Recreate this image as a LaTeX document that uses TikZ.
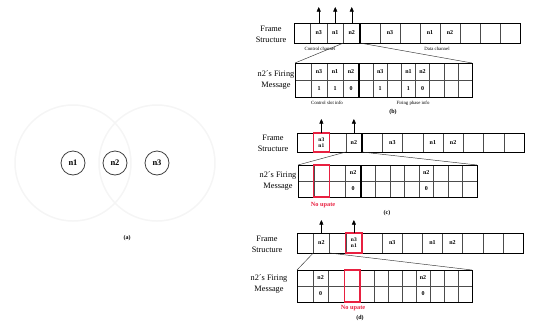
\documentclass[tikz,border=0pt]{standalone}
\usepackage{fontspec}
\setmainfont{Liberation Serif}
\usetikzlibrary{arrows.meta}
\definecolor{upred}{RGB}{232,32,64}
\newcommand\mkcells[6]{%
  \foreach \i in {1,...,12}{%
    \ifnum\i<5
      \pgfmathsetmacro\xx{#2+(\i-1)*#4}\def\ww{#4}%
    \else
      \pgfmathsetmacro\xx{#2+4*#4+(\i-5)*#5}\def\ww{#5}%
    \fi
    \node[cellbox, minimum width=\ww pt, minimum height=#6pt] (#1\i) at (\xx,#3) {};
  }%
}
\begin{document}
\begin{tikzpicture}[x=1pt,y=-1pt,
  cellbox/.style={draw=black!70, line width=0.4pt, inner sep=0pt, outer sep=0pt, anchor=north west},
  outerbox/.style={draw=black, line width=0.9pt},
  divider/.style={draw=black, line width=1.5pt},
  ctext/.style={font=\fontsize{6}{6.5}\selectfont\bfseries, inner sep=0pt},
  stacktext/.style={font=\fontsize{5.5}{5.8}\selectfont\bfseries, inner sep=0pt, align=center},
  sidelabel/.style={font=\fontsize{8.3}{11}\selectfont, align=center, inner sep=0pt},
  smallnote/.style={font=\fontsize{4.8}{5}\selectfont, inner sep=0pt},
  figcap/.style={font=\fontsize{6}{6.5}\selectfont\bfseries, inner sep=0pt},
  noup/.style={font=\fontsize{6.3}{7}\selectfont\bfseries, text=upred, inner sep=0pt},
  redbox/.style={draw=upred, line width=1.2pt},
  arr/.style={-{Triangle[length=4.5pt,width=4pt]}, line width=0.5pt},
  zoomline/.style={line width=0.45pt, draw=black!80},
  nodec/.style={circle, draw=black!75, line width=0.8pt, minimum size=24pt, inner sep=0pt, font=\fontsize{8.5}{9}\selectfont\bfseries},
  rangecirc/.style={draw=black!4, line width=1.5pt}
]
\useasboundingbox (0,0) rectangle (534,327);
% ---------- (a) ----------
\draw[rangecirc] (73,163) circle[radius=58];
\draw[rangecirc] (157,163) circle[radius=58];
\node[nodec] (n1) at (73,163) {n1};
\node[nodec] (n2) at (115,163) {n2};
\node[nodec] (n3) at (157,163) {n3};
\node[figcap] (capa) at (127,238) {(a)};
% ---------- (b) ----------
\mkcells{bf}{294}{23}{16.5}{20}{20}
\draw[outerbox] (bf1.north west) rectangle (bf12.south east);
\draw[divider] (bf4.north east) -- (bf4.south east);
\node[ctext] (tbf2) at (bf2) {n3};
\node[ctext] (tbf3) at (bf3) {n1};
\node[ctext] (tbf4) at (bf4) {n2};
\node[ctext] (tbf6) at (bf6) {n3};
\node[ctext] (tbf8) at (bf8) {n1};
\node[ctext] (tbf9) at (bf9) {n2};
\coordinate (ba2) at ([yshift=16pt]bf2.north);
\coordinate (ba3) at ([yshift=16pt]bf3.north);
\coordinate (ba4) at ([yshift=16pt]bf4.north);
\draw[arr] (bf2.north) -- (ba2);
\draw[arr] (bf3.north) -- (ba3);
\draw[arr] (bf4.north) -- (ba4);
\node[sidelabel] (bfs) at (271,34) {Frame\\Structure};
\node[smallnote] (bcc) at (320,48.5) {Control channel};
\node[smallnote] (bdc) at (437,48.5) {Data channel};
\mkcells{bm}{295}{63}{16}{14.125}{17}
\mkcells{bv}{295}{80}{16}{14.125}{17}
\draw[outerbox] (bm1.north west) rectangle (bv12.south east);
\draw[divider] (bm4.north east) -- (bv4.south east);
\node[ctext] (tbm2) at (bm2) {n3};
\node[ctext] (tbm3) at (bm3) {n1};
\node[ctext] (tbm4) at (bm4) {n2};
\node[ctext] (tbm6) at (bm6) {n3};
\node[ctext] (tbm8) at (bm8) {n1};
\node[ctext] (tbm9) at (bm9) {n2};
\node[ctext] (tbv2) at (bv2) {1};
\node[ctext] (tbv3) at (bv3) {1};
\node[ctext] (tbv4) at (bv4) {0};
\node[ctext] (tbv6) at (bv6) {1};
\node[ctext] (tbv8) at (bv8) {1};
\node[ctext] (tbv9) at (bv9) {0};
\draw[zoomline] (bf4.south west) -- (bm1.north west);
\draw[zoomline] (bf4.south east) -- (bm12.north east);
\node[sidelabel] (bfm) at (276,80) {n2´s Firing\\Message};
\node[smallnote] (bcs) at (327,103) {Control slot info};
\node[smallnote] (bfp) at (413,103) {Firing phase info};
\node[figcap] (capb) at (393,112) {(b)};
% ---------- (c) ----------
\mkcells{cf}{297}{133}{16.25}{20.25}{19}
\draw[outerbox] (cf1.north west) rectangle (cf12.south east);
\draw[divider] (cf4.north east) -- (cf4.south east);
\node[stacktext] (tcf2) at (cf2) {n3\\n1};
\node[ctext] (tcf4) at (cf4) {n2};
\node[ctext] (tcf6) at (cf6) {n3};
\node[ctext] (tcf8) at (cf8) {n1};
\node[ctext] (tcf9) at (cf9) {n2};
\draw[redbox] (cf2.north west) rectangle (cf2.south east);
\coordinate (ca2) at ([yshift=14pt]cf2.north);
\coordinate (ca4) at ([yshift=14pt]cf4.north);
\draw[arr] (cf2.north) -- (ca2);
\draw[arr] (cf4.north) -- (ca4);
\node[sidelabel] (cfs) at (273,143) {Frame\\Structure};
\mkcells{cm}{298}{165}{15.75}{14.5}{16}
\mkcells{cv}{298}{181}{15.75}{14.5}{16}
\draw[outerbox] (cm1.north west) rectangle (cv12.south east);
\draw[divider] (cm4.north east) -- (cv4.south east);
\node[ctext] (tcm4) at (cm4) {n2};
\node[ctext] (tcv4) at (cv4) {0};
\node[ctext] (tcm9) at (cm9) {n2};
\node[ctext] (tcv9) at (cv9) {0};
\draw[redbox] (cm2.north west) rectangle (cv2.south east);
\draw[zoomline] (cf4.south west) -- (cm1.north west);
\draw[zoomline] (cf4.south east) -- (cm12.north east);
\node[sidelabel] (cfm) at (278,181.5) {n2´s Firing\\Message};
\node[noup] (cnu) at (323,205) {No upate};
\node[figcap] (capc) at (387,213) {(c)};
% ---------- (d) ----------
\mkcells{df}{297}{233}{16.25}{20.125}{20}
\draw[outerbox] (df1.north west) rectangle (df12.south east);
\draw[divider] (df4.north east) -- (df4.south east);
\node[ctext] (tdf2) at (df2) {n2};
\node[stacktext] (tdf4) at (df4) {n3\\n1};
\node[ctext] (tdf6) at (df6) {n3};
\node[ctext] (tdf8) at (df8) {n1};
\node[ctext] (tdf9) at (df9) {n2};
\draw[redbox] (df4.north west) rectangle (df4.south east);
\coordinate (da2) at ([yshift=13pt]df2.north);
\coordinate (da4) at ([yshift=13pt]df4.north);
\draw[arr] (df2.north) -- (da2);
\draw[arr] (df4.north) -- (da4);
\node[sidelabel] (dfs) at (267,244) {Frame\\Structure};
\mkcells{dm}{297}{270}{15.75}{14}{16}
\mkcells{dv}{297}{286}{15.75}{14}{16}
\draw[outerbox] (dm1.north west) rectangle (dv12.south east);
\draw[divider] (dm4.north east) -- (dv4.south east);
\node[ctext] (tdm2) at (dm2) {n2};
\node[ctext] (tdv2) at (dv2) {0};
\node[ctext] (tdm9) at (dm9) {n2};
\node[ctext] (tdv9) at (dv9) {0};
\draw[redbox] (dm4.north west) rectangle (dv4.south east);
\draw[zoomline] (df2.south west) -- (dm1.north west);
\draw[zoomline] (df2.south east) -- (dm12.north east);
\node[sidelabel] (dfm) at (269,284) {n2´s Firing\\Message};
\node[noup] (dnu) at (353,308) {No upate};
\node[figcap] (capd) at (360,318) {(d)};
\end{tikzpicture}
\end{document}
